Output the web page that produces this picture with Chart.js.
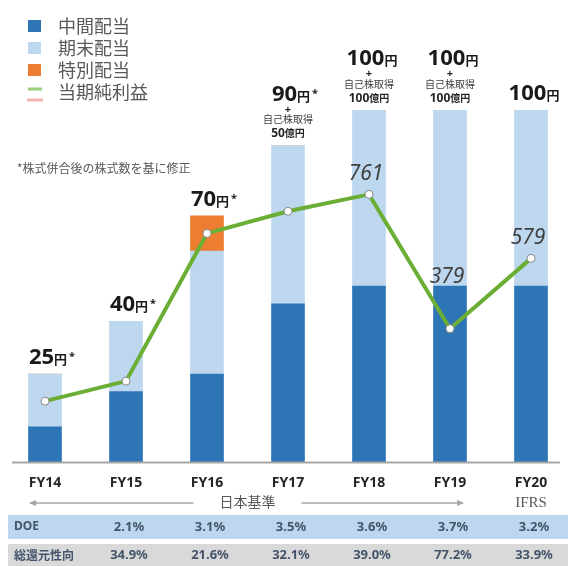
<!DOCTYPE html>
<html><head><meta charset="utf-8">
<script src="https://cdn.jsdelivr.net/npm/chart.js@4/dist/chart.umd.min.js"></script>
<style>html,body{margin:0;padding:0;background:#fff}#wrap{width:568px;height:566px;position:relative}</style>
</head><body><div id="wrap"><canvas id="c"></canvas></div>
<script>
const categories = ['FY14','FY15','FY16','FY17','FY18','FY19','FY20'];
const interimDividend = [10,20,25,45,50,50,50];
const yearEndDividend = [15,20,35,45,50,50,50];
const specialDividend = [0,0,10,0,0,0,0];
const netIncome = [173,230,650,713,761,379,579];
const netIncomeShown = [false,false,false,false,true,true,true];
const dividendTotalLabels = ['25','40','70','90','100','100','100'];
const dividendStar = [true,true,true,true,false,false,false];
const buybackLabels = ['','','','50','100','100',''];
const doeValues = ['','2.1%','3.1%','3.5%','3.6%','3.7%','3.2%'];
const payoutValues = ['','34.9%','21.6%','32.1%','39.0%','77.2%','33.9%'];
const legendLabels = ['中間配当','期末配当','特別配当','当期純利益'];
const noteText = '*株式併合後の株式数を基に修正';
const standardLabel = '日本基準';
const ifrsLabel = 'IFRS';
const tableRowLabels = ['DOE','総還元性向'];

const CJK = "'Noto Sans CJK JP','Noto Sans',sans-serif";
const LAT = "'Noto Sans','Noto Sans CJK JP',sans-serif";
const C_DARK = '#2e75b6', C_LIGHT = '#bdd7ee', C_ORANGE = '#ed7d31', C_GREEN = '#6aae35';

const overlay = {
  id: 'overlay',
  afterDatasetsDraw(chart) {
    const ctx = chart.ctx, xs = chart.scales.x, ys = chart.scales.y, y2 = chart.scales.y2;
    ctx.save();
    // axis line
    const base = ys.getPixelForValue(0);
    ctx.strokeStyle = '#a6a6a6'; ctx.lineWidth = 2;
    ctx.beginPath(); ctx.moveTo(12, base + 0.5); ctx.lineTo(560, base + 0.5); ctx.stroke();

    // top dividend labels
    categories.forEach((c, i) => {
      const total = interimDividend[i] + yearEndDividend[i] + specialDividend[i];
      const cx = xs.getPixelForValue(i);
      const top = ys.getPixelForValue(total);
      let baseY = top - 10;
      ctx.textAlign = 'center'; ctx.fillStyle = '#262626';
      if (buybackLabels[i]) {
        baseY = top - 45;
        ctx.textBaseline = 'middle';
        ctx.font = 'bold 11px ' + LAT; ctx.fillText('+', cx, top - 36);
        ctx.font = '10px ' + CJK; ctx.fillStyle = '#404040'; ctx.fillText('自己株取得', cx, top - 26);
        ctx.fillStyle = '#262626';
        ctx.font = 'bold 12px ' + LAT;
        const nW = ctx.measureText(buybackLabels[i]).width;
        ctx.font = 'bold 10px ' + CJK;
        const uW = ctx.measureText('億円').width;
        let sx = cx - (nW + uW) / 2;
        ctx.textAlign = 'left';
        ctx.font = 'bold 12px ' + LAT; ctx.fillText(buybackLabels[i], sx, top - 12);
        ctx.font = 'bold 10px ' + CJK; ctx.fillText('億円', sx + nW, top - 12);
      }
      ctx.textBaseline = 'alphabetic'; ctx.textAlign = 'left'; ctx.fillStyle = '#1a1a1a';
      ctx.font = 'bold 22px ' + LAT;
      const w1 = ctx.measureText(dividendTotalLabels[i]).width;
      ctx.font = 'bold 13px ' + CJK;
      const w2 = ctx.measureText('円').width;
      let sx = cx - (w1 + w2) / 2 + 3;
      ctx.font = 'bold 22px ' + LAT; ctx.fillText(dividendTotalLabels[i], sx, baseY);
      ctx.font = 'bold 13px ' + CJK; ctx.fillText('円', sx + w1, baseY);
      if (dividendStar[i]) { ctx.font = 'bold 11px ' + LAT; ctx.fillText('*', sx + w1 + w2 + 2, baseY - 4); }
    });

    // net income labels
    ctx.font = 'italic 21px ' + LAT; ctx.fillStyle = '#404040';
    ctx.textAlign = 'center'; ctx.textBaseline = 'middle';
    categories.forEach((c, i) => {
      if (!netIncomeShown[i]) return;
      const cx = xs.getPixelForValue(i);
      const py = y2.getPixelForValue(netIncome[i]);
      const barTop = ys.getPixelForValue(interimDividend[i]);
      const ly = Math.min(py - 20, barTop - 9);
      ctx.fillText(String(netIncome[i]), cx - 3, ly);
    });
    ctx.restore();
  },
  afterDraw(chart) {
    const ctx = chart.ctx, xs = chart.scales.x;
    ctx.save();
    // legend
    const cols = [C_DARK, C_LIGHT, C_ORANGE];
    const rowsY = [26, 48, 70, 92];
    ctx.textBaseline = 'middle'; ctx.textAlign = 'left';
    ctx.font = '18px ' + CJK; 
    for (let k = 0; k < 4; k++) {
      if (k < 3) { ctx.fillStyle = cols[k]; ctx.fillRect(28, rowsY[k] - 6, 13, 12); }
      ctx.fillStyle = '#595959'; ctx.fillText(legendLabels[k], 58, rowsY[k]);
    }
    ctx.lineWidth = 3;
    ctx.strokeStyle = '#9bcf7a'; ctx.beginPath(); ctx.moveTo(28, 89); ctx.lineTo(42, 89); ctx.stroke();
    ctx.strokeStyle = '#f6b4b4'; ctx.beginPath(); ctx.moveTo(27, 100); ctx.lineTo(43, 100); ctx.stroke();

    // note
    ctx.font = '12px ' + CJK; ctx.fillStyle = '#595959';
    ctx.fillText(noteText, 17, 168);

    // category labels
    ctx.textAlign = 'center'; ctx.fillStyle = '#262626'; ctx.font = 'bold 14px ' + LAT;
    categories.forEach((c, i) => ctx.fillText(c, xs.getPixelForValue(i), 483));

    // standard arrows
    const ay = 503;
    const x0 = xs.getPixelForValue(0) - 15, x6 = xs.getPixelForValue(5) + 13;
    const mid = (xs.getPixelForValue(2) + xs.getPixelForValue(3)) / 2;
    ctx.strokeStyle = '#a6a6a6'; ctx.fillStyle = '#a6a6a6'; ctx.lineWidth = 1.5;
    ctx.beginPath(); ctx.moveTo(x0, ay); ctx.lineTo(mid - 54, ay); ctx.moveTo(mid + 54, ay); ctx.lineTo(x6, ay); ctx.stroke();
    ctx.beginPath(); ctx.moveTo(x0 - 1, ay); ctx.lineTo(x0 + 6, ay - 3); ctx.lineTo(x0 + 6, ay + 3); ctx.closePath(); ctx.fill();
    ctx.beginPath(); ctx.moveTo(x6 + 1, ay); ctx.lineTo(x6 - 6, ay - 3); ctx.lineTo(x6 - 6, ay + 3); ctx.closePath(); ctx.fill();
    ctx.fillStyle = '#595959'; ctx.font = '14px ' + CJK; ctx.fillText(standardLabel, mid, ay - 1);
    ctx.font = "15px 'Liberation Serif',serif"; ctx.fillText(ifrsLabel, xs.getPixelForValue(6), ay);

    // table
    ctx.fillStyle = C_LIGHT; ctx.fillRect(8, 515, 560, 24);
    ctx.fillStyle = '#d9d9d9'; ctx.fillRect(8, 544, 560, 22);
    const rows = [[doeValues, 527], [payoutValues, 555]];
    ctx.fillStyle = '#44546a';
    rows.forEach(([vals, yy], r) => {
      ctx.textAlign = 'left';
      ctx.font = 'bold 12px ' + (r === 0 ? LAT : CJK);
      ctx.fillText(tableRowLabels[r], 14, yy);
      ctx.textAlign = 'center'; ctx.font = 'bold 13px ' + LAT;
      vals.forEach((v, i) => { if (v) ctx.fillText(v, xs.getPixelForValue(i) + 3, yy); });
    });
    ctx.restore();
  }
};

new Chart(document.getElementById('c'), {
  type: 'bar',
  data: {
    labels: categories,
    datasets: [
      { type: 'line', label: legendLabels[3], data: netIncome, yAxisID: 'y2', order: 0,
        borderColor: C_GREEN, borderWidth: 4, pointRadius: 4, pointBackgroundColor: '#ffffff',
        pointBorderColor: '#8a8a8a', pointBorderWidth: 1, tension: 0, clip: false },
      { label: legendLabels[0], data: interimDividend, backgroundColor: C_DARK, order: 1, clip: false, stack: 's' },
      { label: legendLabels[1], data: yearEndDividend, backgroundColor: C_LIGHT, order: 1, clip: false, stack: 's' },
      { label: legendLabels[2], data: specialDividend, backgroundColor: C_ORANGE, order: 1, clip: false, stack: 's' }
    ]
  },
  options: {
    responsive: true, maintainAspectRatio: false, animation: false,
    layout: { padding: { left: 45, right: 37, top: 40, bottom: 104 } },
    datasets: { bar: { barThickness: 33, borderWidth: 0 } },
    plugins: { legend: { display: false }, tooltip: { enabled: false } },
    scales: {
      x: { display: false, stacked: true, offset: false },
      y: { display: false, stacked: true, min: 0, max: 120 },
      y2: { display: false, min: 0, max: 1200 }
    }
  },
  plugins: [overlay]
});
</script></body></html>
